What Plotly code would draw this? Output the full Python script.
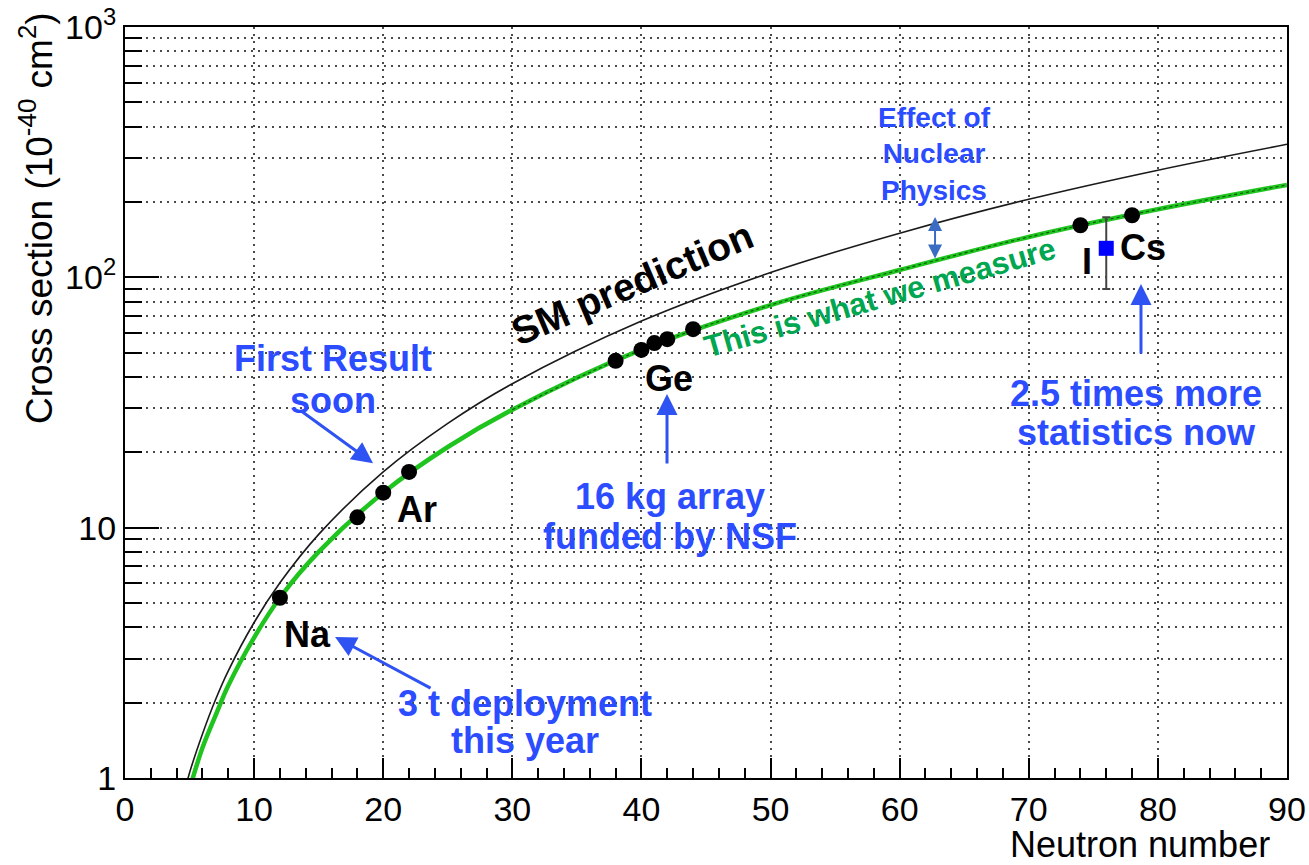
import numpy as np
import plotly.graph_objects as go

FONT = "Liberation Sans, Arial, Helvetica, sans-serif"
BLUE = "#2b4cff"
ARROW_BLUE = "#2f52f2"
GREEN_TEXT = "#00a650"
GREEN_LINE = "#1fc41f"

# Standard Model prediction (point-like nucleus), cross section in 1e-40 cm^2
n_sm = [4.8, 5, 6, 7, 8, 10, 12, 15, 20, 25, 30, 40, 50, 60, 70, 80, 90]
sigma_sm = [0.96, 1.05, 1.50, 2.05, 2.68, 4.18, 6.02, 9.4, 16.7, 26.1, 37.6,
            66.9, 104.5, 150, 205, 268, 340]

# Prediction including the nuclear form factor
n_ff = [5.2, 6, 7, 8, 10, 12, 15, 20, 25, 30, 40, 50, 60, 70, 80, 90]
sigma_ff = [0.98, 1.32, 1.77, 2.34, 3.64, 5.25, 8.0, 13.8, 21.0, 29.6, 51.4,
            77.5, 107, 145, 187, 234]

# Target isotopes on the form-factor curve
isotope = ["Na", "Ar", "Ar", "Ar", "Ge", "Ge", "Ge", "Ge", "Ge", "I", "Cs"]
n_iso = [12, 18, 20, 22, 38, 40, 41, 42, 44, 74, 78]
sigma_iso = [5.25, 11.0, 13.8, 16.7, 46.4, 51.3, 54.6, 56.6, 62.1, 161.5, 177]

# CsI measurement
n_csi = [76]
sigma_csi = [130.6]
err_up = [43.2]
err_down = [40.7]

x_ticks = list(range(0, 91, 10))
x_minor = [v for v in range(2, 90, 2) if v % 10]
y_ticks = [1, 10, 100, 1000]
y_ticktext = ["1", "10", "10<sup>2</sup>", "10<sup>3</sup>"]
y_minor = [k * 10 ** d for d in range(3) for k in range(2, 10)]

fig = go.Figure()

fig.add_trace(go.Scatter(
    x=n_sm, y=sigma_sm, mode="lines",
    line=dict(color="#1a1a1a", width=1.6, shape="spline"), hoverinfo="skip"))
fig.add_trace(go.Scatter(
    x=n_ff, y=sigma_ff, mode="lines",
    line=dict(color=GREEN_LINE, width=4.5, shape="spline"), hoverinfo="skip"))
core = [i for i, n in enumerate(n_ff) if n >= 30]
fig.add_trace(go.Scatter(
    x=[n_ff[i] for i in core], y=[sigma_ff[i] for i in core], mode="lines",
    line=dict(color="rgba(0,50,0,0.75)", width=1.1, dash="3px,3px", shape="spline"),
    hoverinfo="skip"))
fig.add_trace(go.Scatter(
    x=n_iso, y=sigma_iso, mode="markers", text=isotope,
    marker=dict(color="black", size=16)))
fig.add_trace(go.Scatter(
    x=n_csi, y=sigma_csi, mode="markers",
    marker=dict(symbol="square", color="#0000ff", size=15),
    error_y=dict(type="data", symmetric=False, array=err_up, arrayminus=err_down,
                 color="#444444", thickness=2, width=4)))

grid_dash = "2px,5px"
grid_color = "#4a4a4a"
fig.update_xaxes(
    range=[0, 90], tickmode="array", tickvals=x_ticks, automargin=False,
    ticks="inside", ticklen=20, tickwidth=1.5, tickcolor="black",
    showline=True, linecolor="black", linewidth=2, mirror=True,
    showgrid=True, gridcolor=grid_color, griddash=grid_dash, gridwidth=1.5,
    zeroline=False, tickfont=dict(family=FONT, size=34, color="black"),
    minor=dict(tickmode="array", tickvals=x_minor, ticks="inside", ticklen=10,
               tickwidth=1.5, tickcolor="black", showgrid=False))
fig.update_yaxes(
    type="log", range=[0, 3], tickmode="array", tickvals=y_ticks, ticktext=y_ticktext,
    automargin=False,
    ticks="inside", ticklen=34, tickwidth=1.5, tickcolor="black",
    showline=True, linecolor="black", linewidth=2, mirror=True,
    showgrid=True, gridcolor=grid_color, griddash=grid_dash, gridwidth=1.5,
    zeroline=False, tickfont=dict(family=FONT, size=34, color="black"),
    minor=dict(tickmode="array", tickvals=y_minor, ticks="inside", ticklen=17,
               tickwidth=1.5, tickcolor="black", showgrid=True,
               gridcolor=grid_color, griddash=grid_dash, gridwidth=1.5))


def label(text, n, s, size, color, angle=0):
    fig.add_annotation(
        x=n, y=np.log10(s), xref="x", yref="y", text=f"<b>{text}</b>",
        showarrow=False, textangle=angle, xanchor="center", yanchor="middle",
        font=dict(family=FONT, size=size, color=color))


def arrow(n, s, ax, ay, color, width=3, size=1.3, both=False):
    fig.add_annotation(
        x=n, y=np.log10(s), xref="x", yref="y", ax=ax, ay=ay,
        axref="pixel", ayref="pixel", text="", showarrow=True,
        arrowhead=2, arrowsize=size, arrowwidth=width, arrowcolor=color,
        arrowside="end+start" if both else "end",
        startarrowhead=2, startarrowsize=size)


# curve labels
label("SM prediction", 39.27, 94.9, 39, "black", angle=-23)
label("This is what we measure", 58.5, 83.4, 31, GREEN_TEXT, angle=-16)

# isotope labels
label("Na", 14.17, 3.76, 36, "black")
label("Ar", 22.62, 11.87, 36, "black")
label("Ge", 42.13, 39.6, 36, "black")
label("I", 74.51, 116.2, 36, "black")
label("Cs", 78.85, 131.0, 36, "black")

# notes
label("Effect of<br>Nuclear<br>Physics", 62.66, 311, 28, BLUE)
arrow(62.74, 174.2, 0, 43, "#3a6cc4", width=2, size=1.4, both=True)

label("First Result", 16.11, 47.2, 36, BLUE)
label("soon", 16.11, 32.1, 36, BLUE)
arrow(19.21, 18.1, -73, -53, ARROW_BLUE, size=1.4)

label("16 kg array", 42.21, 13.26, 36, BLUE)
label("funded by NSF", 42.21, 9.26, 36, BLUE)
arrow(41.98, 34.2, 0, 71, ARROW_BLUE, size=1.4)

label("3 t deployment", 30.98, 1.993, 36, BLUE)
label("this year", 30.98, 1.418, 36, BLUE)
arrow(16.27, 3.66, 97, 52, ARROW_BLUE, size=1.4)

label("2.5 times more", 78.31, 34.5, 36, BLUE)
label("statistics now", 78.31, 24.1, 36, BLUE)
arrow(78.69, 94.1, 0, 71, ARROW_BLUE, size=1.4)

# axis titles
fig.add_annotation(
    x=0.9871, y=-0.0892, xref="paper", yref="paper", text="Neutron number",
    showarrow=False, xanchor="right", yanchor="middle",
    font=dict(family=FONT, size=36, color="black"))
fig.add_annotation(
    x=-0.0757, y=0.7457, xref="paper", yref="paper",
    text="Cross section (10<sup>-40</sup> cm<sup>2</sup>)",
    showarrow=False, textangle=-90, xanchor="center", yanchor="middle",
    font=dict(family=FONT, size=37, color="black"))

fig.update_layout(
    width=1309, height=865, showlegend=False,
    margin=dict(l=125, r=22, t=27, b=87),
    paper_bgcolor="white", plot_bgcolor="white")

fig.write_html("out.html")
